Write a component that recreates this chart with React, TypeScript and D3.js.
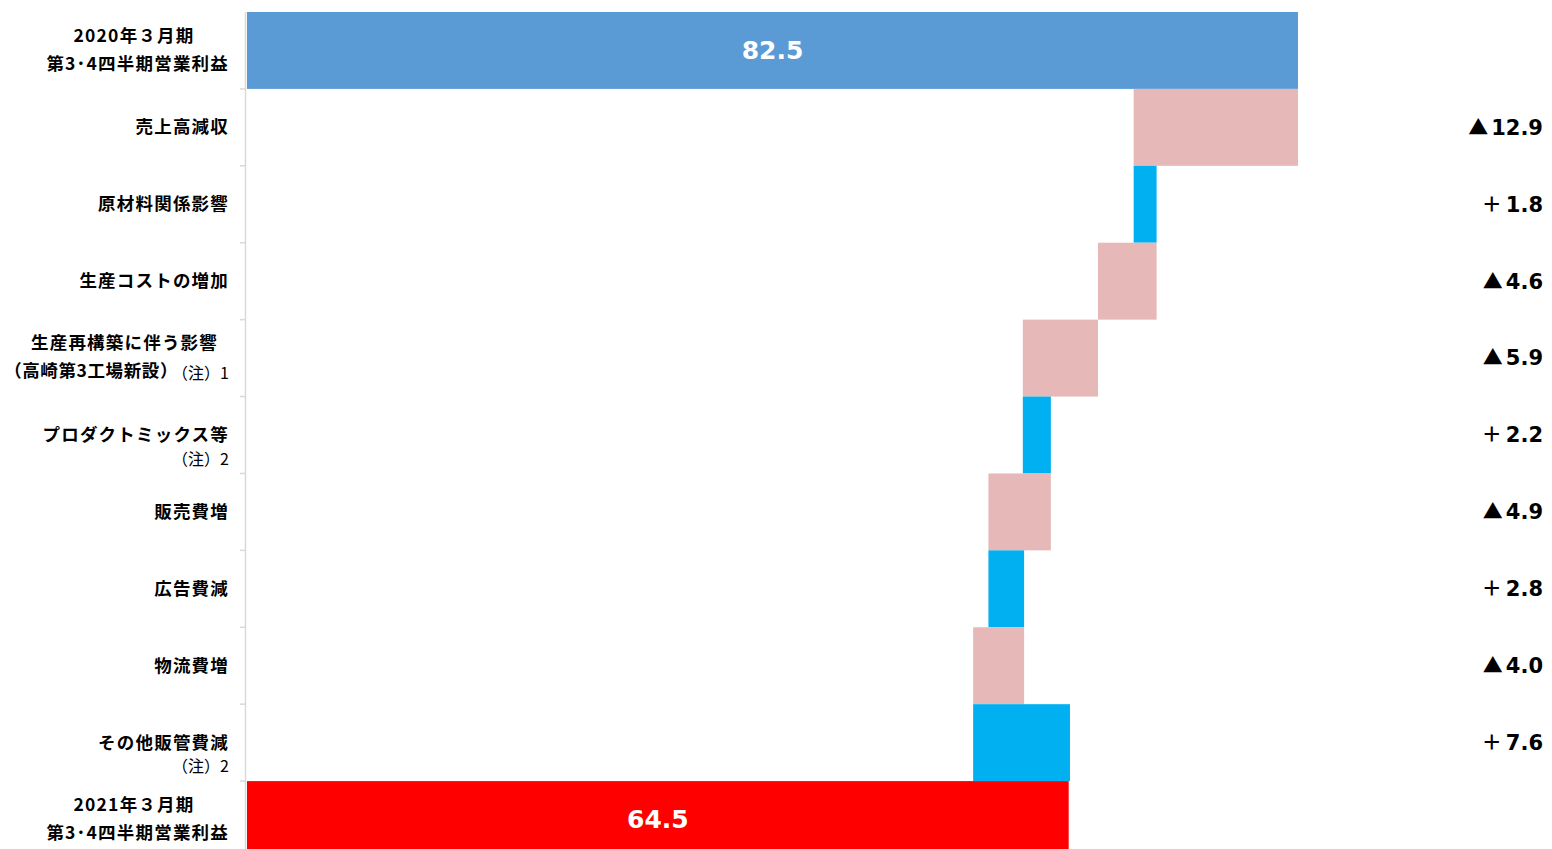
import React from 'react';
import * as d3 from 'd3';

const categories = [
  'start', 'sales', 'material', 'cost', 'rebuild', 'mix', 'selling', 'ads', 'logistics', 'other', 'end',
];
// main label lines (bold) and note lines (regular)
const labelLines = [
  ['2020年３月期', '第3･4四半期営業利益'],
  ['売上高減収'],
  ['原材料関係影響'],
  ['生産コストの増加'],
  ['生産再構築に伴う影響', '（高崎第3工場新設）'],
  ['プロダクトミックス等'],
  ['販売費増'],
  ['広告費減'],
  ['物流費増'],
  ['その他販管費減'],
  ['2021年３月期', '第3･4四半期営業利益'],
];
const notes = ['', '', '', '', '（注）1', '（注）2', '', '', '', '（注）2', ''];
const startValue = 82.5;
const endValue = 64.5;
const deltas = [0, -12.9, 1.8, -4.6, -5.9, 2.2, -4.9, 2.8, -4.0, 7.6, 0];
const deltaLabels = ['', '12.9', '1.8', '4.6', '5.9', '2.2', '4.9', '2.8', '4.0', '7.6', ''];

const W = 1552;
const H = 849;
const jp = '"Noto Sans CJK JP", sans-serif';
const num = '"DejaVu Sans", "Noto Sans CJK JP", sans-serif';

export default function App() {
  const x = d3.scaleLinear().domain([0, 82.5]).range([247, 1298]);
  const y = d3.scaleBand().domain(categories).range([12, 858]).paddingInner(0);
  const bw = y.bandwidth();

  // running totals for waterfall
  let run = startValue;
  const bars = categories.map((c, i) => {
    if (i === 0) return { c, x0: 0, x1: startValue, fill: '#5B9BD5' };
    if (i === categories.length - 1) return { c, x0: 0, x1: endValue, fill: '#FF0000' };
    const prev = run;
    run = run + deltas[i];
    return {
      c,
      x0: Math.min(prev, run),
      x1: Math.max(prev, run),
      fill: deltas[i] < 0 ? '#E6B8B7' : '#00B0F0',
    };
  });

  const boundaries = categories.slice(1).map((c) => y(c)!);
  const fs = 17.5;
  const ls = 1.2;

  return (
    <svg width={W} height={H} style={{ position: 'absolute', left: 0, top: 0, background: '#fff' }}>
      {bars.map((b) => (
        <rect key={b.c} x={x(b.x0)} y={y(b.c)} width={x(b.x1) - x(b.x0)} height={bw} fill={b.fill} />
      ))}

      {/* axis */}
      <line x1={245.5} x2={245.5} y1={12} y2={H} stroke="#d9d9d9" strokeWidth={1.5} />
      {boundaries.map((yy, i) => (
        <line key={i} x1={240} x2={245} y1={yy} y2={yy} stroke="#d9d9d9" strokeWidth={1.5} />
      ))}

      {/* category labels */}
      {categories.map((c, i) => {
        const cy = y(c)! + bw / 2;
        const lines = labelLines[i];
        const note = notes[i];
        if (lines.length === 2) {
          const boxed = !note; // year headers: centred block
          return (
            <text key={c} fontFamily={jp} fontWeight="bold" fontSize={fs} fill="#000" letterSpacing={ls}>
              <tspan x={boxed ? 134 : 218} y={cy - 15} dy="0.35em" textAnchor={boxed ? 'middle' : 'end'}>
                {lines[0]}
              </tspan>
              <tspan x={boxed ? 229 : 178} y={cy + 13} dy="0.35em" textAnchor="end" letterSpacing={boxed ? ls : 0.6}>
                {lines[1]}
              </tspan>
            </text>
          );
        }
        return (
          <text key={c} x={229} y={cy} dy="0.35em" fontFamily={jp} fontWeight="bold" fontSize={fs} fill="#000" letterSpacing={ls} textAnchor="end">
            {lines[0]}
          </text>
        );
      })}
      {categories.map((c, i) => {
        const note = notes[i];
        if (!note) return null;
        const cy = y(c)! + bw / 2;
        const dyOff = labelLines[i].length === 2 ? 15 : 24;
        return (
          <text key={'n' + c} x={229} y={cy + dyOff} dy="0.35em" fontFamily={jp} fontSize={16} textAnchor="end" fill="#000">
            {note}
          </text>
        );
      })}

      {/* delta labels */}
      {categories.map((c, i) =>
        deltaLabels[i] ? (
          <text key={'d' + c} x={1543} y={y(c)! + bw / 2} dy="0.35em" textAnchor="end" fontFamily={num} fontWeight="bold" fontSize={21} fill="#000">
            <tspan fontFamily={jp} fontSize={20}>{deltas[i] < 0 ? '▲' : '＋'}</tspan>
            <tspan dx={deltas[i] < 0 ? 3 : 4}>{deltaLabels[i]}</tspan>
          </text>
        ) : null
      )}

      {/* totals */}
      <text x={(x(0) + x(startValue)) / 2} y={y('start')! + bw / 2} dy="0.35em" textAnchor="middle" fontFamily={num} fontWeight="bold" fontSize={25} fill="#fff">
        {startValue.toFixed(1)}
      </text>
      <text x={(x(0) + x(endValue)) / 2} y={y('end')! + bw / 2} dy="0.35em" textAnchor="middle" fontFamily={num} fontWeight="bold" fontSize={25} fill="#fff">
        {endValue.toFixed(1)}
      </text>
    </svg>
  );
}
